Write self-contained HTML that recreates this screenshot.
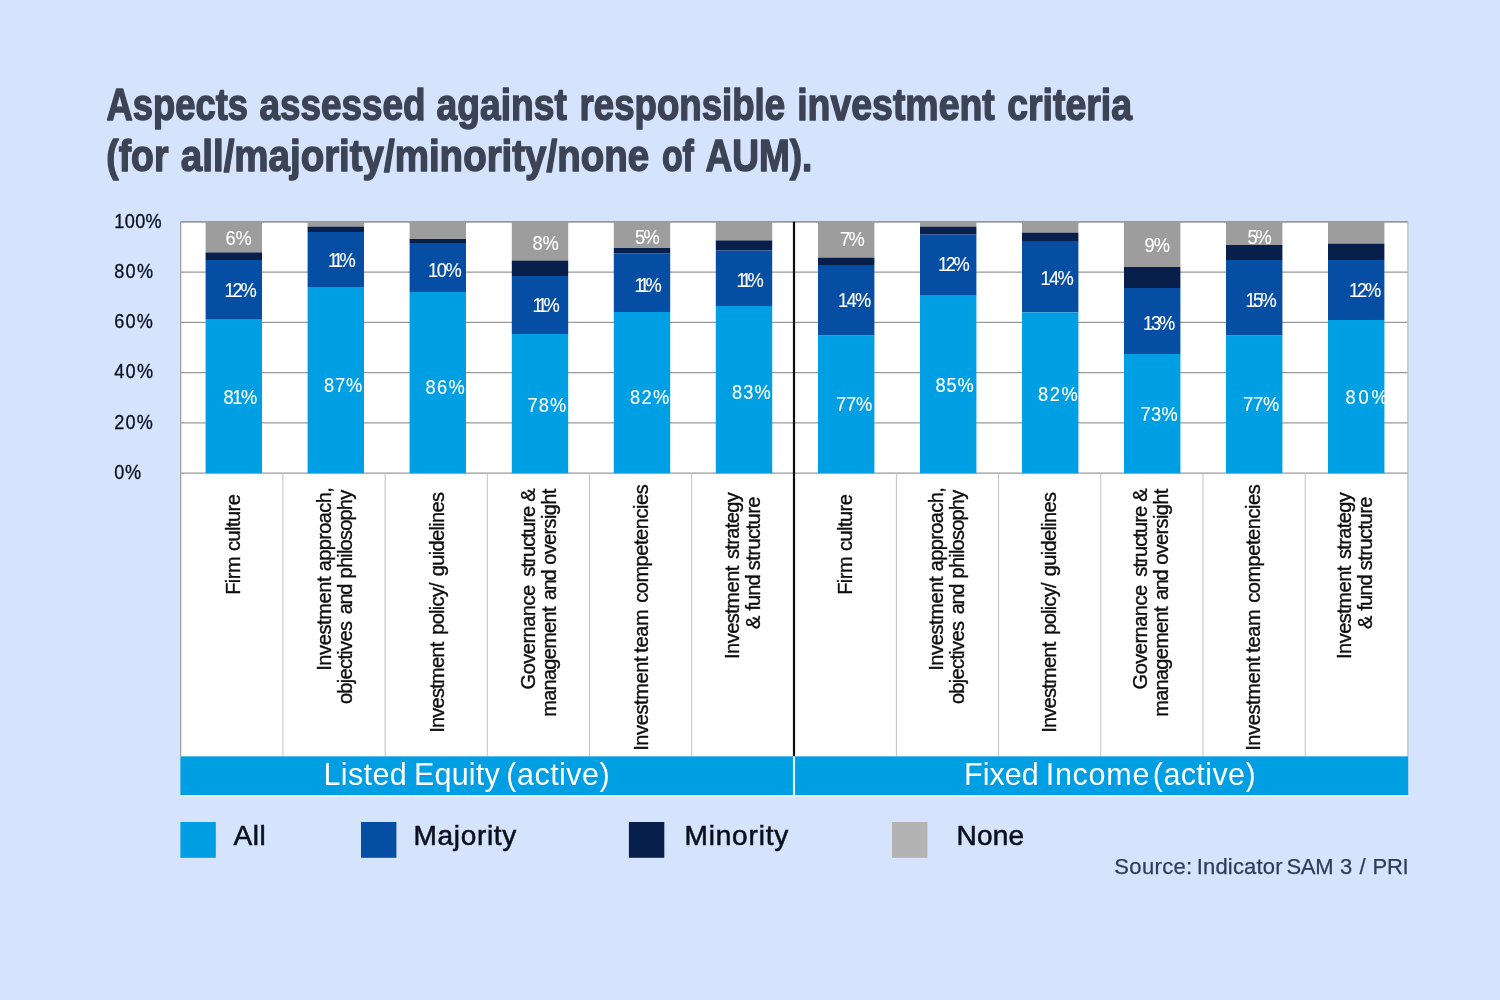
<!DOCTYPE html>
<html lang="en"><head><meta charset="utf-8"><title>Aspects assessed against responsible investment criteria</title>
<style>
html,body{margin:0;padding:0;background:#d5e3fd;}
body{width:1500px;height:1000px;overflow:hidden;font-family:"Liberation Sans",sans-serif;}
svg{display:block;}
text{font-family:"Liberation Sans",sans-serif;}
.ttl{font-weight:bold;font-size:43.5px;fill:#3c4354;stroke:#3c4354;stroke-width:1.4px;stroke-linejoin:round;}
.ax{font-size:19.5px;fill:#0a0f1e;stroke:#0a0f1e;stroke-width:0.3px;}
.dl{font-size:20.3px;fill:#ffffff;stroke:#ffffff;stroke-width:0.12px;}
.cat{font-size:20px;fill:#0d0d0d;stroke:#0d0d0d;stroke-width:0.35px;}
.band{font-size:30.5px;fill:#ffffff;}
.leg{font-size:28px;fill:#0a0f1c;stroke:#0a0f1c;stroke-width:0.55px;}
.src{font-size:22px;fill:#2f3b57;stroke:#2f3b57;stroke-width:0.25px;}
</style></head><body>
<svg width="1500" height="1000" viewBox="0 0 1500 1000">
<rect x="0" y="0" width="1500" height="1000" fill="#d5e3fd"/>
<text class="ttl"><tspan x="106.55" y="120.3" textLength="141.55" lengthAdjust="spacingAndGlyphs">Aspects</tspan> <tspan x="259.50" y="120.3" textLength="165.95" lengthAdjust="spacingAndGlyphs">assessed</tspan> <tspan x="436.50" y="120.3" textLength="130.30" lengthAdjust="spacingAndGlyphs">against</tspan> <tspan x="579.55" y="120.3" textLength="205.55" lengthAdjust="spacingAndGlyphs">responsible</tspan> <tspan x="797.20" y="120.3" textLength="197.60" lengthAdjust="spacingAndGlyphs">investment</tspan> <tspan x="1007.20" y="120.3" textLength="124.90" lengthAdjust="spacingAndGlyphs">criteria</tspan></text>
<text class="ttl"><tspan x="106.20" y="170.6" textLength="62.25" lengthAdjust="spacingAndGlyphs">(for</tspan> <tspan x="180.85" y="170.6" textLength="468.30" lengthAdjust="spacingAndGlyphs">all/majority/minority/none</tspan> <tspan x="661.90" y="170.6" textLength="31.90" lengthAdjust="spacingAndGlyphs">of</tspan> <tspan x="705.50" y="170.6" textLength="106.90" lengthAdjust="spacingAndGlyphs">AUM).</tspan></text>
<rect x="180.7" y="221.8" width="1227.2" height="534.6" fill="#ffffff"/>
<line x1="180.7" y1="221.8" x2="1407.9" y2="221.8" stroke="#999999" stroke-width="1.8"/>
<line x1="180.7" y1="272.1" x2="1407.9" y2="272.1" stroke="#999999" stroke-width="1.2"/>
<line x1="180.7" y1="322.4" x2="1407.9" y2="322.4" stroke="#999999" stroke-width="1.2"/>
<line x1="180.7" y1="372.6" x2="1407.9" y2="372.6" stroke="#999999" stroke-width="1.2"/>
<line x1="180.7" y1="422.9" x2="1407.9" y2="422.9" stroke="#999999" stroke-width="1.2"/>
<line x1="180.7" y1="473.2" x2="1407.9" y2="473.2" stroke="#999999" stroke-width="1.2"/>
<line x1="180.7" y1="221.8" x2="180.7" y2="756.4" stroke="#9c9c9c" stroke-width="1.2"/>
<line x1="1407.9" y1="221.8" x2="1407.9" y2="756.4" stroke="#b3bac9" stroke-width="1.2"/>
<line x1="282.9" y1="473.2" x2="282.9" y2="756.4" stroke="#c2c2c2" stroke-width="1.0"/>
<line x1="385.1" y1="473.2" x2="385.1" y2="756.4" stroke="#c2c2c2" stroke-width="1.0"/>
<line x1="487.3" y1="473.2" x2="487.3" y2="756.4" stroke="#c2c2c2" stroke-width="1.0"/>
<line x1="589.5" y1="473.2" x2="589.5" y2="756.4" stroke="#c2c2c2" stroke-width="1.0"/>
<line x1="691.7" y1="473.2" x2="691.7" y2="756.4" stroke="#c2c2c2" stroke-width="1.0"/>
<line x1="896.4" y1="473.2" x2="896.4" y2="756.4" stroke="#c2c2c2" stroke-width="1.0"/>
<line x1="998.6" y1="473.2" x2="998.6" y2="756.4" stroke="#c2c2c2" stroke-width="1.0"/>
<line x1="1100.8" y1="473.2" x2="1100.8" y2="756.4" stroke="#c2c2c2" stroke-width="1.0"/>
<line x1="1203.0" y1="473.2" x2="1203.0" y2="756.4" stroke="#c2c2c2" stroke-width="1.0"/>
<line x1="1305.2" y1="473.2" x2="1305.2" y2="756.4" stroke="#c2c2c2" stroke-width="1.0"/>
<rect x="205.6" y="221.8" width="56.4" height="30.6" fill="#9e9d9d"/>
<rect x="205.6" y="252.4" width="56.4" height="7.6" fill="#081f4c"/>
<rect x="205.6" y="260.0" width="56.4" height="59.0" fill="#064ea3"/>
<rect x="205.6" y="319.0" width="56.4" height="154.2" fill="#009fe3"/>
<rect x="307.6" y="221.8" width="56.4" height="4.8" fill="#9e9d9d"/>
<rect x="307.6" y="226.6" width="56.4" height="5.4" fill="#081f4c"/>
<rect x="307.6" y="232.0" width="56.4" height="55.0" fill="#064ea3"/>
<rect x="307.6" y="287.0" width="56.4" height="186.2" fill="#009fe3"/>
<rect x="409.6" y="221.8" width="56.4" height="17.2" fill="#9e9d9d"/>
<rect x="409.6" y="239.0" width="56.4" height="4.0" fill="#081f4c"/>
<rect x="409.6" y="243.0" width="56.4" height="49.0" fill="#064ea3"/>
<rect x="409.6" y="292.0" width="56.4" height="181.2" fill="#009fe3"/>
<rect x="511.8" y="221.8" width="56.4" height="38.8" fill="#9e9d9d"/>
<rect x="511.8" y="260.6" width="56.4" height="15.4" fill="#081f4c"/>
<rect x="511.8" y="276.0" width="56.4" height="58.0" fill="#064ea3"/>
<rect x="511.8" y="334.0" width="56.4" height="139.2" fill="#009fe3"/>
<rect x="613.8" y="221.8" width="56.4" height="26.2" fill="#9e9d9d"/>
<rect x="613.8" y="248.0" width="56.4" height="5.6" fill="#081f4c"/>
<rect x="613.8" y="253.6" width="56.4" height="58.4" fill="#064ea3"/>
<rect x="613.8" y="312.0" width="56.4" height="161.2" fill="#009fe3"/>
<rect x="715.8" y="221.8" width="56.4" height="18.6" fill="#9e9d9d"/>
<rect x="715.8" y="240.4" width="56.4" height="10.2" fill="#081f4c"/>
<rect x="715.8" y="250.6" width="56.4" height="55.4" fill="#064ea3"/>
<rect x="715.8" y="306.0" width="56.4" height="167.2" fill="#009fe3"/>
<rect x="818.0" y="221.8" width="56.4" height="35.8" fill="#9e9d9d"/>
<rect x="818.0" y="257.6" width="56.4" height="7.4" fill="#081f4c"/>
<rect x="818.0" y="265.0" width="56.4" height="70.6" fill="#064ea3"/>
<rect x="818.0" y="335.6" width="56.4" height="137.6" fill="#009fe3"/>
<rect x="920.0" y="221.8" width="56.4" height="4.8" fill="#9e9d9d"/>
<rect x="920.0" y="226.6" width="56.4" height="8.0" fill="#081f4c"/>
<rect x="920.0" y="234.6" width="56.4" height="60.4" fill="#064ea3"/>
<rect x="920.0" y="295.0" width="56.4" height="178.2" fill="#009fe3"/>
<rect x="1022.0" y="221.8" width="56.4" height="10.8" fill="#9e9d9d"/>
<rect x="1022.0" y="232.6" width="56.4" height="8.4" fill="#081f4c"/>
<rect x="1022.0" y="241.0" width="56.4" height="71.4" fill="#064ea3"/>
<rect x="1022.0" y="312.4" width="56.4" height="160.8" fill="#009fe3"/>
<rect x="1124.0" y="221.8" width="56.4" height="45.2" fill="#9e9d9d"/>
<rect x="1124.0" y="267.0" width="56.4" height="21.0" fill="#081f4c"/>
<rect x="1124.0" y="288.0" width="56.4" height="66.0" fill="#064ea3"/>
<rect x="1124.0" y="354.0" width="56.4" height="119.2" fill="#009fe3"/>
<rect x="1226.0" y="221.8" width="56.4" height="23.2" fill="#9e9d9d"/>
<rect x="1226.0" y="245.0" width="56.4" height="15.0" fill="#081f4c"/>
<rect x="1226.0" y="260.0" width="56.4" height="75.6" fill="#064ea3"/>
<rect x="1226.0" y="335.6" width="56.4" height="137.6" fill="#009fe3"/>
<rect x="1328.0" y="221.8" width="56.4" height="21.8" fill="#9e9d9d"/>
<rect x="1328.0" y="243.6" width="56.4" height="16.4" fill="#081f4c"/>
<rect x="1328.0" y="260.0" width="56.4" height="60.0" fill="#064ea3"/>
<rect x="1328.0" y="320.0" width="56.4" height="153.2" fill="#009fe3"/>
<rect x="180.4" y="756.4" width="1227.8" height="38.9" fill="#009fe3"/>
<line x1="794.0" y1="221.8" x2="794.0" y2="756.4" stroke="#0c0c14" stroke-width="2.2"/>
<line x1="794.0" y1="756.4" x2="794.0" y2="796.8" stroke="#e2f8ff" stroke-width="2.1"/>
<line x1="180.4" y1="796.0" x2="1408.2" y2="796.0" stroke="#eef9ff" stroke-width="1.7"/>
<text class="ax" transform="translate(114.2 227.6) scale(0.93 1)" x="0" y="0" textLength="51.1" lengthAdjust="spacing">100%</text>
<text class="ax" transform="translate(114.2 277.9) scale(0.93 1)" x="0" y="0" textLength="41.9" lengthAdjust="spacing">80%</text>
<text class="ax" transform="translate(114.2 328.2) scale(0.93 1)" x="0" y="0" textLength="41.5" lengthAdjust="spacing">60%</text>
<text class="ax" transform="translate(114.2 378.4) scale(0.93 1)" x="0" y="0" textLength="41.9" lengthAdjust="spacing">40%</text>
<text class="ax" transform="translate(114.2 428.7) scale(0.93 1)" x="0" y="0" textLength="41.5" lengthAdjust="spacing">20%</text>
<text class="ax" transform="translate(114.2 479.0) scale(0.93 1)" x="0" y="0" textLength="29.0" lengthAdjust="spacing">0%</text>
<text class="dl" transform="translate(225.5 245.0) scale(0.90 1)" x="0" y="0" textLength="29.1" lengthAdjust="spacing">6%</text>
<text class="dl" transform="translate(224.5 296.6) scale(0.90 1)" x="0" y="0" textLength="35.8" lengthAdjust="spacing">12%</text>
<text class="dl" transform="translate(223.5 403.8) scale(0.90 1)" x="0" y="0" textLength="37.6" lengthAdjust="spacing">81%</text>
<text class="dl" transform="translate(328.1 267.4) scale(0.90 1)" x="0" y="0" textLength="30.7" lengthAdjust="spacing">11%</text>
<text class="dl" transform="translate(323.9 391.6) scale(0.90 1)" x="0" y="0" textLength="42.7" lengthAdjust="spacing">87%</text>
<text class="dl" transform="translate(428.1 277.0) scale(0.90 1)" x="0" y="0" textLength="37.3" lengthAdjust="spacing">10%</text>
<text class="dl" transform="translate(425.5 393.6) scale(0.90 1)" x="0" y="0" textLength="43.6" lengthAdjust="spacing">86%</text>
<text class="dl" transform="translate(532.5 250.0) scale(0.90 1)" x="0" y="0" textLength="29.1" lengthAdjust="spacing">8%</text>
<text class="dl" transform="translate(532.5 311.6) scale(0.90 1)" x="0" y="0" textLength="30.2" lengthAdjust="spacing">11%</text>
<text class="dl" transform="translate(527.5 411.6) scale(0.90 1)" x="0" y="0" textLength="43.1" lengthAdjust="spacing">78%</text>
<text class="dl" transform="translate(635.1 243.6) scale(0.90 1)" x="0" y="0" textLength="27.3" lengthAdjust="spacing">5%</text>
<text class="dl" transform="translate(634.5 292.0) scale(0.90 1)" x="0" y="0" textLength="30.2" lengthAdjust="spacing">11%</text>
<text class="dl" transform="translate(629.9 404.0) scale(0.90 1)" x="0" y="0" textLength="43.8" lengthAdjust="spacing">82%</text>
<text class="dl" transform="translate(736.5 287.4) scale(0.90 1)" x="0" y="0" textLength="30.2" lengthAdjust="spacing">11%</text>
<text class="dl" transform="translate(731.9 399.4) scale(0.90 1)" x="0" y="0" textLength="43.1" lengthAdjust="spacing">83%</text>
<text class="dl" transform="translate(840.1 246.0) scale(0.90 1)" x="0" y="0" textLength="27.3" lengthAdjust="spacing">7%</text>
<text class="dl" transform="translate(838.1 307.0) scale(0.90 1)" x="0" y="0" textLength="36.9" lengthAdjust="spacing">14%</text>
<text class="dl" transform="translate(836.1 411.4) scale(0.90 1)" x="0" y="0" textLength="40.2" lengthAdjust="spacing">77%</text>
<text class="dl" transform="translate(937.9 271.0) scale(0.90 1)" x="0" y="0" textLength="35.3" lengthAdjust="spacing">12%</text>
<text class="dl" transform="translate(935.5 391.6) scale(0.90 1)" x="0" y="0" textLength="42.4" lengthAdjust="spacing">85%</text>
<text class="dl" transform="translate(1040.5 284.6) scale(0.90 1)" x="0" y="0" textLength="36.9" lengthAdjust="spacing">14%</text>
<text class="dl" transform="translate(1038.1 401.0) scale(0.90 1)" x="0" y="0" textLength="44.0" lengthAdjust="spacing">82%</text>
<text class="dl" transform="translate(1144.5 251.6) scale(0.90 1)" x="0" y="0" textLength="28.4" lengthAdjust="spacing">9%</text>
<text class="dl" transform="translate(1143.1 329.6) scale(0.90 1)" x="0" y="0" textLength="35.6" lengthAdjust="spacing">13%</text>
<text class="dl" transform="translate(1140.5 421.4) scale(0.90 1)" x="0" y="0" textLength="41.3" lengthAdjust="spacing">73%</text>
<text class="dl" transform="translate(1247.5 244.0) scale(0.90 1)" x="0" y="0" textLength="26.9" lengthAdjust="spacing">5%</text>
<text class="dl" transform="translate(1245.5 307.0) scale(0.90 1)" x="0" y="0" textLength="34.7" lengthAdjust="spacing">15%</text>
<text class="dl" transform="translate(1243.1 411.4) scale(0.90 1)" x="0" y="0" textLength="40.2" lengthAdjust="spacing">77%</text>
<text class="dl" transform="translate(1349.1 297.4) scale(0.90 1)" x="0" y="0" textLength="35.6" lengthAdjust="spacing">12%</text>
<text class="dl" transform="translate(1345.5 404.4) scale(0.90 1)" x="0" y="0" textLength="46.9" lengthAdjust="spacing">80%</text>
<text class="cat" transform="translate(240.00 760.0) rotate(-90)"><tspan x="165.18" y="0" textLength="38.48" lengthAdjust="spacing">Firm</tspan> <tspan x="209.04" y="0" textLength="56.86" lengthAdjust="spacing">culture</tspan></text>
<text class="cat" transform="translate(330.85 760.0) rotate(-90)"><tspan x="89.20" y="0" textLength="94.40" lengthAdjust="spacing">Investment</tspan> <tspan x="188.68" y="0" textLength="84.12" lengthAdjust="spacing">approach,</tspan></text>
<text class="cat" transform="translate(351.85 760.0) rotate(-90)"><tspan x="55.90" y="0" textLength="83.00" lengthAdjust="spacing">objectives</tspan> <tspan x="145.66" y="0" textLength="30.72" lengthAdjust="spacing">and</tspan> <tspan x="181.56" y="0" textLength="88.64" lengthAdjust="spacing">philosophy</tspan></text>
<text class="cat" transform="translate(443.80 760.0) rotate(-90)"><tspan x="27.20" y="0" textLength="91.10" lengthAdjust="spacing">Investment</tspan> <tspan x="125.38" y="0" textLength="52.10" lengthAdjust="spacing">policy/</tspan> <tspan x="183.74" y="0" textLength="84.36" lengthAdjust="spacing">guidelines</tspan></text>
<text class="cat" transform="translate(535.00 760.0) rotate(-90)"><tspan x="70.60" y="0" textLength="104.44" lengthAdjust="spacing">Governance</tspan> <tspan x="183.30" y="0" textLength="70.94" lengthAdjust="spacing">structure</tspan> <tspan x="258.32" y="0">&amp;</tspan></text>
<text class="cat" transform="translate(555.85 760.0) rotate(-90)"><tspan x="43.20" y="0" textLength="110.26" lengthAdjust="spacing">management</tspan> <tspan x="160.02" y="0" textLength="30.58" lengthAdjust="spacing">and</tspan> <tspan x="195.16" y="0" textLength="76.16" lengthAdjust="spacing">oversight</tspan></text>
<text class="cat" transform="translate(647.85 760.0) rotate(-90)"><tspan x="9.20" y="0" textLength="94.28" lengthAdjust="spacing">Investment</tspan> <tspan x="107.16" y="0" textLength="43.52" lengthAdjust="spacing">team</tspan> <tspan x="157.16" y="0" textLength="118.54" lengthAdjust="spacing">competencies</tspan></text>
<text class="cat" transform="translate(739.00 760.0) rotate(-90)"><tspan x="101.00" y="0" textLength="93.34" lengthAdjust="spacing">Investment</tspan> <tspan x="201.02" y="0" textLength="66.68" lengthAdjust="spacing">strategy</tspan></text>
<text class="cat" transform="translate(760.00 760.0) rotate(-90)"><tspan x="130.90" y="0">&amp;</tspan> <tspan x="149.44" y="0" textLength="36.22" lengthAdjust="spacing">fund</tspan> <tspan x="189.88" y="0" textLength="73.52" lengthAdjust="spacing">structure</tspan></text>
<text class="cat" transform="translate(852.00 760.0) rotate(-90)"><tspan x="165.18" y="0" textLength="38.48" lengthAdjust="spacing">Firm</tspan> <tspan x="209.04" y="0" textLength="56.86" lengthAdjust="spacing">culture</tspan></text>
<text class="cat" transform="translate(942.85 760.0) rotate(-90)"><tspan x="89.20" y="0" textLength="94.40" lengthAdjust="spacing">Investment</tspan> <tspan x="188.68" y="0" textLength="84.12" lengthAdjust="spacing">approach,</tspan></text>
<text class="cat" transform="translate(963.85 760.0) rotate(-90)"><tspan x="55.90" y="0" textLength="83.00" lengthAdjust="spacing">objectives</tspan> <tspan x="145.66" y="0" textLength="30.72" lengthAdjust="spacing">and</tspan> <tspan x="181.56" y="0" textLength="88.64" lengthAdjust="spacing">philosophy</tspan></text>
<text class="cat" transform="translate(1055.80 760.0) rotate(-90)"><tspan x="27.20" y="0" textLength="91.10" lengthAdjust="spacing">Investment</tspan> <tspan x="125.38" y="0" textLength="52.10" lengthAdjust="spacing">policy/</tspan> <tspan x="183.74" y="0" textLength="84.36" lengthAdjust="spacing">guidelines</tspan></text>
<text class="cat" transform="translate(1147.00 760.0) rotate(-90)"><tspan x="70.60" y="0" textLength="104.44" lengthAdjust="spacing">Governance</tspan> <tspan x="183.30" y="0" textLength="70.94" lengthAdjust="spacing">structure</tspan> <tspan x="258.32" y="0">&amp;</tspan></text>
<text class="cat" transform="translate(1167.85 760.0) rotate(-90)"><tspan x="43.20" y="0" textLength="110.26" lengthAdjust="spacing">management</tspan> <tspan x="160.02" y="0" textLength="30.58" lengthAdjust="spacing">and</tspan> <tspan x="195.16" y="0" textLength="76.16" lengthAdjust="spacing">oversight</tspan></text>
<text class="cat" transform="translate(1259.85 760.0) rotate(-90)"><tspan x="9.20" y="0" textLength="94.28" lengthAdjust="spacing">Investment</tspan> <tspan x="107.16" y="0" textLength="43.52" lengthAdjust="spacing">team</tspan> <tspan x="157.16" y="0" textLength="118.54" lengthAdjust="spacing">competencies</tspan></text>
<text class="cat" transform="translate(1351.00 760.0) rotate(-90)"><tspan x="101.00" y="0" textLength="93.34" lengthAdjust="spacing">Investment</tspan> <tspan x="201.02" y="0" textLength="66.68" lengthAdjust="spacing">strategy</tspan></text>
<text class="cat" transform="translate(1372.00 760.0) rotate(-90)"><tspan x="130.90" y="0">&amp;</tspan> <tspan x="149.44" y="0" textLength="36.22" lengthAdjust="spacing">fund</tspan> <tspan x="189.88" y="0" textLength="73.52" lengthAdjust="spacing">structure</tspan></text>
<text class="band"><tspan x="323.44" y="785.2" textLength="83.24" lengthAdjust="spacing">Listed</tspan> <tspan x="413.88" y="785.2" textLength="85.96" lengthAdjust="spacing">Equity</tspan> <tspan x="506.32" y="785.2" textLength="103.36" lengthAdjust="spacing">(active)</tspan></text>
<text class="band"><tspan x="963.94" y="785.2" textLength="74.80" lengthAdjust="spacing">Fixed</tspan> <tspan x="1045.74" y="785.2" textLength="103.62" lengthAdjust="spacing">Income</tspan> <tspan x="1152.82" y="785.2" textLength="102.74" lengthAdjust="spacing">(active)</tspan></text>
<rect x="180.4" y="822" width="35.4" height="35.8" fill="#009fe3"/>
<text class="leg"><tspan x="233.40" y="844.7" textLength="32.40" lengthAdjust="spacing">All</tspan></text>
<rect x="361.0" y="822" width="35.4" height="35.8" fill="#064ea3"/>
<text class="leg"><tspan x="413.60" y="844.7" textLength="102.70" lengthAdjust="spacing">Majority</tspan></text>
<rect x="628.9" y="822" width="35.4" height="35.8" fill="#081f4c"/>
<text class="leg"><tspan x="684.50" y="844.7" textLength="103.80" lengthAdjust="spacing">Minority</tspan></text>
<rect x="892.0" y="822" width="35.4" height="35.8" fill="#b3b3b3"/>
<text class="leg"><tspan x="956.60" y="844.7" textLength="67.50" lengthAdjust="spacing">None</tspan></text>
<text class="src"><tspan x="1114.34" y="873.7" textLength="77.90" lengthAdjust="spacing">Source:</tspan> <tspan x="1196.70" y="873.7" textLength="85.88" lengthAdjust="spacing">Indicator</tspan> <tspan x="1286.46" y="873.7" textLength="47.02" lengthAdjust="spacing">SAM</tspan> <tspan x="1340.02" y="873.7">3</tspan> <tspan x="1359.48" y="873.7">/</tspan> <tspan x="1372.58" y="873.7" textLength="35.98" lengthAdjust="spacing">PRI</tspan></text>
</svg></body></html>
